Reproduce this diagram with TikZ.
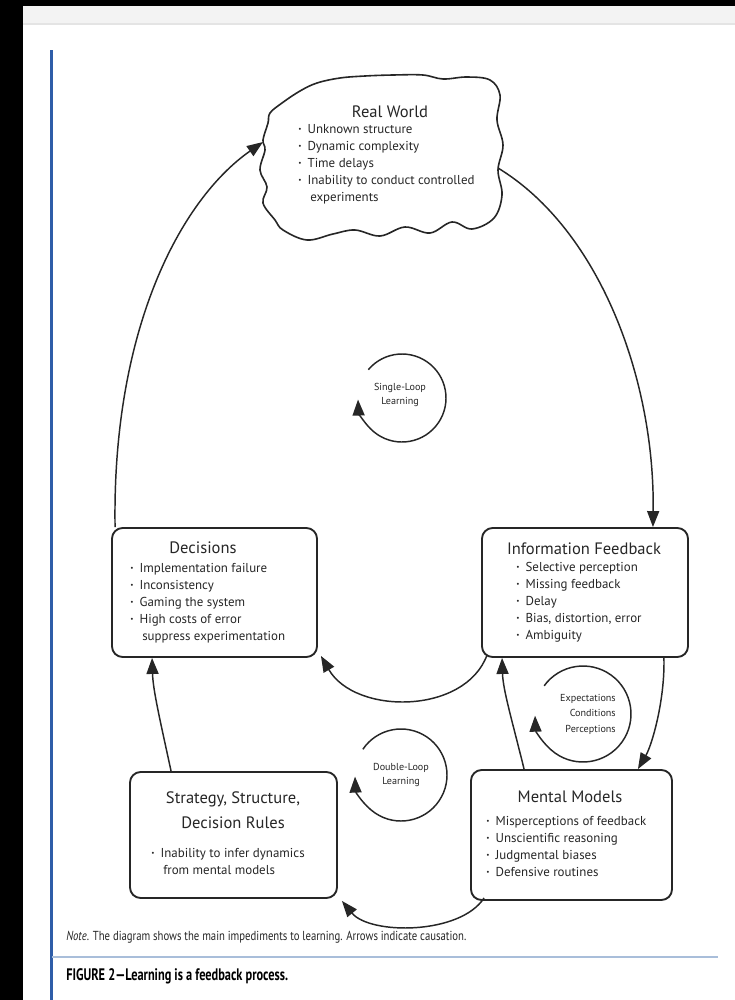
\documentclass[tikz,border=0pt]{standalone}
\usepackage{fontspec}
\setmainfont{PT Sans}
\newfontfamily\condfont{PT Sans}[FakeStretch=0.82]
\newfontfamily\figfont{PT Sans}[FakeStretch=0.74]
\usetikzlibrary{arrows.meta,calc}
\definecolor{ink}{HTML}{262626}
\definecolor{bargrey}{HTML}{F3F3F3}
\definecolor{barline}{HTML}{E4E4E4}
\definecolor{blueline}{HTML}{2F5DA8}
\definecolor{rulecol}{HTML}{A9BEDA}
\newcommand\bl{\makebox[7pt][l]{\raisebox{0.3ex}{\scalebox{0.55}{•}}}}
\newcommand\hg{\hspace*{9pt}}
\tikzset{
  box/.style={draw=ink, line width=1.4pt, rounded corners=8pt, inner sep=0pt},
  ttl/.style={font=\fontsize{12.4}{14}\selectfont, text=ink, inner sep=0pt},
  lst/.style={font=\fontsize{9.7}{12.75}\selectfont, text=ink, align=left, inner sep=0pt, anchor=north west},
  looptxt/.style={font=\fontsize{7.6}{11}\selectfont, text=ink, inner sep=0pt},
  arr/.style={draw=ink, line width=1.1pt, -{Triangle[length=12pt,width=9pt]}},
}
\begin{document}
\begin{tikzpicture}[x=0.75pt,y=-0.75pt]
\useasboundingbox (0,0) rectangle (735,1000);
\fill[white] (0,0) rectangle (735,1000);
% screen frame
\fill[bargrey] (23,6) rectangle (735,23);
\fill[barline] (23,23) rectangle (735,25);
\fill[black] (0,0) rectangle (735,6);
\fill[black] (0,0) rectangle (23,1000);
\fill[blueline] (50,50) rectangle (52.5,1000);

% cloud
\draw[ink, line width=1.2pt, fill=white] plot[smooth cycle, tension=0.6] coordinates {
 (300,91) (317,83) (340,78) (365,76) (393,75) (423,75) (443,79) (467,77) (490,80)
 (500,95) (497,120) (503,145) (498,170) (502,195) (494,218) (472,229) (452,222)
 (430,233) (405,227) (380,236) (355,230) (333,234) (307,240) (283,230) (275,220)
 (263,203) (267,187) (260,170) (265,150) (263,140) (268,123) (270,113) (282,103)};
\node[ttl] (rwt) at (390,112) {Real World};
\node[lst] (rw) at (298,124) {\bl Unknown structure\\ \bl Dynamic complexity\\ \bl Time delays\\ \bl Inability to conduct controlled\\ \hg experiments};
\coordinate (rwL) at (263,142);
\coordinate (rwR) at (498,168);

% boxes
\node[box, minimum width=153.75pt, minimum height=96.75pt] (dec) at (214.5,592.5) {};
\node[box, minimum width=154.5pt, minimum height=96.75pt] (info) at (585,592.5) {};
\node[box, minimum width=155.25pt, minimum height=94.5pt] (strat) at (233.5,835) {};
\node[box, minimum width=150.75pt, minimum height=97.5pt] (mm) at (571.5,835) {};

\node[ttl] (dect) at (203,548) {Decisions};
\node[lst] (decl) at (130,563) {\bl Implementation failure\\ \bl Inconsistency\\ \bl Gaming the system\\ \bl High costs of error\\ \hg suppress experimentation};

\node[ttl] (infot) at (584,549) {Information Feedback};
\node[lst] (infol) at (516,562) {\bl Selective perception\\ \bl Missing feedback\\ \bl Delay\\ \bl Bias, distortion, error\\ \bl Ambiguity};

\node[ttl, align=center, font=\fontsize{12.4}{18.75}\selectfont] (stratt) at (233,810) {Strategy, Structure,\\ Decision Rules};
\node[lst] (stratl) at (151,848) {\bl Inability to infer dynamics\\ \hg from mental models};

\node[ttl] (mmt) at (570,797) {Mental Models};
\node[lst] (mml) at (486,816) {\bl Misperceptions of feedback\\ \bl Unscientific reasoning\\ \bl Judgmental biases\\ \bl Defensive routines};

% loops
\coordinate (slc) at (402,398);
\node[looptxt, align=center] (sl) at (400,395) {Single-Loop\\ Learning};
\draw[arr] (slc) ++(140:33pt) arc[start angle=140, end angle=-178, radius=33pt];

\coordinate (dlc) at (401,775);
\node[looptxt, align=center] (dl) at (401,775) {Double-Loop\\ Learning};
\draw[arr] (dlc) ++(146:34.5pt) arc[start angle=146, end angle=-178, radius=34.5pt];

\coordinate (exc) at (583,714);
\node[looptxt, align=right, anchor=east, font=\fontsize{7.6}{11.6}\selectfont] (ex) at (616,714) {Expectations\\ Conditions\\ Perceptions};
\draw[arr] (exc) ++(144:36pt) arc[start angle=144, end angle=-178, radius=36pt];

% connectors
\draw[arr] ($(dec.north west)+(4,0)$) .. controls (112,330) and (180,200) .. (rwL);
\draw[arr] (rwR) .. controls (600,230) and (655,380) .. ($(info.north east)+(-36,0)$);
\draw[arr] ($(info.south west)+(6,-3)$) .. controls (465,715) and (355,715) .. ($(dec.south east)+(3,-2)$);
\draw[arr] ($(strat.north west)+(42,0)$) .. controls (160,720) and (153,690) .. ($(dec.south west)+(41,0)$);
\draw[arr] ($(mm.north west)+(54,0)$) .. controls (512,720) and (503,690) .. ($(info.south west)+(21,0)$);
\draw[arr] ($(info.south east)+(-25,0)$) .. controls (665,700) and (652,745) .. ($(mm.north east)+(-35,0)$);
\draw[arr] ($(mm.south west)+(14,-3)$) .. controls (460,935) and (370,935) .. ($(strat.south east)+(4,2)$);

% caption
\node[anchor=west, inner sep=0pt, text=ink, font=\condfont\fontsize{9.8}{11}\selectfont] (note) at (66,937) {\textit{Note}. The diagram shows the main impediments to learning. Arrows indicate causation.};
\fill[rulecol] (52,956) rectangle (718,958);
\node[anchor=west, inner sep=0pt, text=black, font=\figfont\bfseries\fontsize{12.5}{14}\selectfont] (fig) at (66,976) {FIGURE 2—Learning is a feedback process.};
\end{tikzpicture}
\end{document}
